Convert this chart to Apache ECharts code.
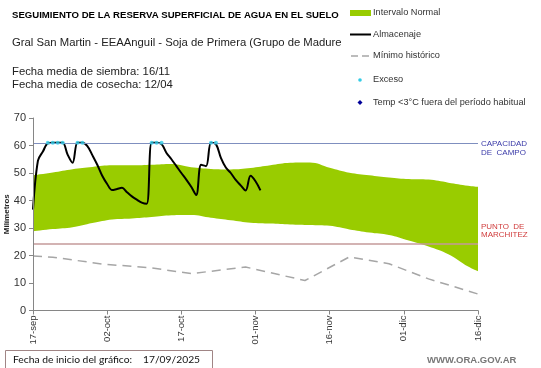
<!DOCTYPE html>
<html>
<head>
<meta charset="utf-8">
<script src="https://cdn.jsdelivr.net/npm/echarts@6/dist/echarts.min.js"></script>
<style>
html,body{margin:0;padding:0;background:#fff;}
#chart{width:541px;height:368px;}
</style>
</head>
<body>
<div id="chart"></div>
<script>
// x tick labels (every 15 days from 17-sep)
var tickLabels = ['17-sep','02-oct','17-oct','01-nov','16-nov','01-dic','16-dic'];

// Almacenaje: daily values, day 0 = 17-sep
var storageValues = [36.7,54.5,57.8,60.8,61,61,61,56.7,53.7,61,61,59.8,56.5,53,49,46,
  43.8,44.2,44.6,43,41.5,40.3,39.2,38.8,61,61,60.5,57.3,55,52.5,50,47.6,45,42,53,52.5,
  61,60.5,55.5,52,50,47.5,45.5,43.6,49,47,43.7];

// Exceso points (day index, value)
var excesoDays = [3,4,5,6,9,10,24,25,26,36,37];
var excesoValues = [61,61,61,61,61,61,61,61,61,61,61];

// Intervalo normal (band)
var bandDays  = [0,4,8,12,16,20,24,28,32,36,40,44,48,52,56,60,64,68,72,76,80,84,88,90];
var bandUpper = [49.2,50.2,51.4,52.2,52.8,52.8,53,53.3,52.1,51.5,51.3,51.8,52.8,53.7,53.8,51.9,50.1,49.2,48.4,47.8,47.6,46.5,45.4,45];
var bandLower = [28.8,29.6,30.3,31.8,33.1,33.5,34,34.6,34.7,33.7,32.8,31.9,31.6,31.3,31.1,30.8,29.5,28.4,27.5,25.5,23.3,20.5,16,14.3];

// Mínimo histórico
var minDays   = [0,4,14,24,32,43,55,64,72,80,90];
var minValues = [19.8,19.4,16.9,15.5,13.4,15.8,10.9,19.5,17,11.5,6];

var capacidad = 60.8;
var marchitez = 24.4;

var FONT = 'Liberation Sans, Arial, sans-serif';

var storageData = storageValues.map(function(v,i){return [i,v];});
var excesoData = excesoDays.map(function(d,i){return [d, excesoValues[i]];});
var lowerData = bandDays.map(function(d,i){return [d, bandLower[i]];});
var upperData = bandDays.map(function(d,i){return [d, bandUpper[i]];});
var minData = minDays.map(function(d,i){return [d, minValues[i]];});

var chart = echarts.init(document.getElementById('chart'), null, {renderer:'canvas'});
chart.setOption({
  animation:false,
  backgroundColor:'#fff',
  textStyle:{fontFamily:FONT},
  grid:{left:33,right:63,top:118,bottom:57.5,containLabel:false,outerBoundsMode:'none'},
  xAxis:{
    type:'value',min:0,max:90,interval:15,z:10,
    axisLine:{lineStyle:{color:'#868686',width:1}},
    axisTick:{show:true,length:4,lineStyle:{color:'#868686'}},
    splitLine:{show:false},
    axisLabel:{rotate:90,fontSize:9.5,color:'#333',margin:5,fontFamily:FONT,
      formatter:function(v){return tickLabels[Math.round(v/15)]||'';}}
  },
  yAxis:{
    type:'value',min:0,max:70,interval:10,z:10,
    name:'Milímetros',nameLocation:'middle',nameRotate:90,nameGap:22,nameMoveOverlap:false,
    nameTextStyle:{fontSize:8,fontWeight:'bold',color:'#222',fontFamily:FONT},
    axisLine:{show:true,lineStyle:{color:'#868686',width:1}},
    axisTick:{show:true,length:4,lineStyle:{color:'#868686'}},
    splitLine:{show:false},
    axisLabel:{fontSize:11,color:'#333',margin:7,fontFamily:FONT}
  },
  series:[
    {type:'line',name:'Intervalo Normal',data:upperData,symbol:'none',smooth:0.4,
      lineStyle:{opacity:0},areaStyle:{color:'#99cc00',opacity:1,origin:'start'},silent:true,z:1},
    {type:'line',name:'lower',data:lowerData,symbol:'none',smooth:0.4,
      lineStyle:{opacity:0},areaStyle:{color:'#ffffff',opacity:1,origin:'start'},silent:true,z:1.5},
    {type:'line',name:'Mínimo histórico',data:minData,symbol:'none',
      lineStyle:{color:'#a6a6a6',width:1.5,type:[9,6]},z:2,
      markLine:{symbol:'none',silent:true,animation:false,
        data:[
          {yAxis:capacidad,lineStyle:{color:'#7f8fbf',width:1,type:'solid'},
            label:{show:true,position:'end',distance:3,formatter:'\nCAPACIDAD\nDE  CAMPO',
              color:'#3a3aa8',fontSize:8,lineHeight:9.5,fontFamily:FONT}},
          {yAxis:marchitez,lineStyle:{color:'#c49a9a',width:1.5,type:'solid'},
            label:{show:true,position:'end',distance:3,formatter:'PUNTO  DE\nMARCHITEZ\n \n \n ',
              color:'#d03c3c',fontSize:8,lineHeight:8.5,fontFamily:FONT}}
        ]}},
    {type:'line',name:'Almacenaje',data:storageData,symbol:'none',smooth:0.35,
      lineStyle:{color:'#000',width:2},z:4},
    {type:'scatter',name:'Exceso',data:excesoData,symbol:'circle',symbolSize:4,
      itemStyle:{color:'#33cce6'},z:5}
  ],
  graphic:[
    {type:'text',left:12,top:10,style:{text:'SEGUIMIENTO DE LA RESERVA SUPERFICIAL DE AGUA EN EL SUELO',
      font:'bold 9.6px '+FONT,fill:'#000'}},
    {type:'text',left:12,top:37.5,style:{text:'Gral San Martin - EEAAnguil - Soja de Primera (Grupo de Madure',
      font:'11.3px '+FONT,fill:'#222'}},
    {type:'text',left:12,top:66,style:{text:'Fecha media de siembra: 16/11',font:'11.3px '+FONT,fill:'#222'}},
    {type:'text',left:12,top:79,style:{text:'Fecha media de cosecha: 12/04',font:'11.3px '+FONT,fill:'#222'}},
    // legend
    {type:'rect',shape:{x:350,y:10,width:21,height:6},style:{fill:'#99cc00'}},
    {type:'text',left:373,top:8,style:{text:'Intervalo Normal',font:'9.2px '+FONT,fill:'#333'}},
    {type:'line',shape:{x1:350,y1:34.5,x2:371,y2:34.5},style:{stroke:'#000',lineWidth:2}},
    {type:'text',left:373,top:29.5,style:{text:'Almacenaje',font:'9.2px '+FONT,fill:'#333'}},
    {type:'line',shape:{x1:351,y1:56,x2:370,y2:56},style:{stroke:'#a6a6a6',lineWidth:1.5,lineDash:[7,4]}},
    {type:'text',left:373,top:51,style:{text:'Mínimo histórico',font:'9.2px '+FONT,fill:'#333'}},
    {type:'circle',shape:{cx:360,cy:80,r:1.8},style:{fill:'#33cce6'}},
    {type:'text',left:373,top:75,style:{text:'Exceso',font:'9.2px '+FONT,fill:'#333'}},
    {type:'polygon',shape:{points:[[360,99.9],[362.5,102.4],[360,104.9],[357.5,102.4]]},style:{fill:'#000099'}},
    {type:'text',left:373,top:97.5,style:{text:'Temp <3°C fuera del período habitual',font:'9.2px '+FONT,fill:'#333'}},
    // footer
    {type:'rect',shape:{x:5.5,y:350.5,width:207,height:20},style:{fill:'#fff',stroke:'#a08585',lineWidth:1}},
    {type:'text',left:13,top:354.5,style:{text:'Fecha de inicio del gráfico:',font:'10.3px Lato, '+FONT,fill:'#111'}},
    {type:'text',left:143,top:354.5,style:{text:'17/09/2025',font:'10.3px Lato, '+FONT,fill:'#111'}},
    {type:'text',left:427,top:355,style:{text:'WWW.ORA.GOV.AR',font:'bold 9.5px '+FONT,fill:'#777'}}
  ]
});
</script>
</body>
</html>
